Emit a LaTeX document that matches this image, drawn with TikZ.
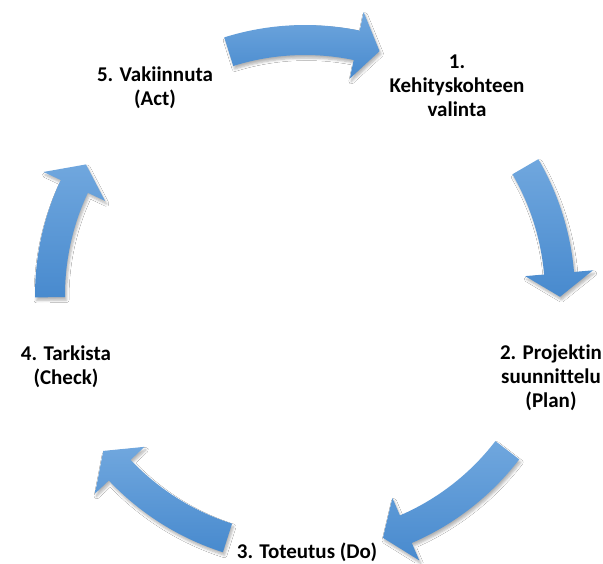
\documentclass[tikz,border=0pt]{standalone}
\usepackage{fontspec}
\setmainfont{Carlito}[Ligatures=NoCommon]
\usetikzlibrary{shadows.blur}
\definecolor{arrLight}{RGB}{112,167,222}
\definecolor{arrDark}{RGB}{72,138,206}
\tikzset{
  lbl/.style={font=\fontsize{21}{24}\selectfont\bfseries, align=center, inner sep=0pt, text=black},
  cyclearrow/.style={top color=arrLight, bottom color=arrDark, draw=none,
    blur shadow={shadow xshift=1.5pt, shadow yshift=-3pt, shadow blur steps=5, shadow blur extra rounding=0pt, shadow blur radius=2.5pt, shadow opacity=30}}
}
% #1 tail angle, #2 head base angle, #3 tip angle
\newcommand{\cyclearc}[3]{%
  \path[cyclearrow] (#1:270) arc[start angle=#1, end angle=#2, radius=270]
    -- (#2:289) -- (#3:255) -- (#2:221) -- (#2:240)
    arc[start angle=#2, end angle=#1, radius=240] -- cycle;
}
\begin{document}
\begin{tikzpicture}[x=1pt,y=1pt]
\useasboundingbox (0,0) rectangle (603,-563);
\fill[white] (0,0) rectangle (603,-563);
\begin{scope}[shift={(305,-295)}]
  \cyclearc{107.4}{78.3}{73}
  \cyclearc{30.2}{4.9}{-0.4}
  \cyclearc{-37.5}{-66.7}{-72.2}
  \cyclearc{-107.7}{-136.6}{-142.3}
  \cyclearc{180.5}{154.8}{149.2}
\end{scope}
\node[lbl] (act) at (155,-88) {5. Vakiinnuta\\(Act)};
\node[lbl] (sel) at (457,-86) {1.\\Kehityskohteen\\valinta};
\node[lbl] (plan) at (551,-378) {2. Projektin\\suunnittelu\\(Plan)};
\node[lbl] (do) at (307,-552) {3. Toteutus (Do)};
\node[lbl] (check) at (66,-367) {4. Tarkista\\(Check)};
\end{tikzpicture}
\end{document}
